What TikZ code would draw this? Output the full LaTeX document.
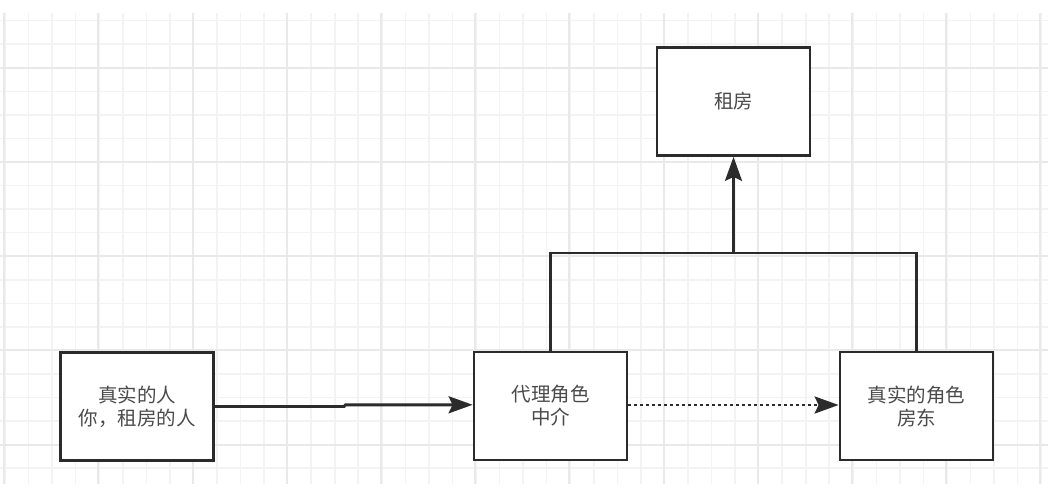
\documentclass[tikz,border=0pt]{standalone}
\usepackage{fontspec}
\setmainfont{Noto Sans CJK SC}
\usetikzlibrary{arrows.meta}
\definecolor{edgec}{HTML}{2B2B2B}
\definecolor{textc}{HTML}{4A4A4A}
\definecolor{gridminor}{HTML}{F3F3F3}
\definecolor{gridmajor}{HTML}{E9E9E9}
\tikzset{
  box/.style={draw=edgec, line width=2.8pt, fill=white, rectangle,
    minimum width=153pt, minimum height=108pt, inner sep=0pt,
    align=center, text=textc, font=\fontsize{19.5}{23}\selectfont},
  conn/.style={draw=edgec, line width=2.9pt},
  tip/.style={-{Stealth[length=24pt, width=17pt, inset=4pt]}},
  dots/.style={dash pattern=on 3pt off 3pt},
}
\begin{document}
\begin{tikzpicture}[x=1pt, y=-1pt]
\useasboundingbox (0,0) rectangle (1048,494);
\fill[white] (0,0) rectangle (1048,494);
% grid
\foreach \i in {0,...,44} {
  \pgfmathsetmacro{\gx}{5+23.55*\i}
  \draw[gridminor, line width=1.6pt] (\gx,13) -- (\gx,484);
}
\foreach \i in {0,...,19} {
  \pgfmathsetmacro{\gy}{20.7+23.55*\i}
  \draw[gridminor, line width=1.6pt] (0,\gy) -- (1048,\gy);
}
\foreach \i in {0,...,11} {
  \pgfmathsetmacro{\gx}{4.1+94.2*\i}
  \draw[gridmajor, line width=2pt] (\gx,13) -- (\gx,484);
}
\foreach \i in {0,...,4} {
  \pgfmathsetmacro{\gy}{67.7+94.2*\i}
  \draw[gridmajor, line width=2pt] (0,\gy) -- (1048,\gy);
}
% nodes
\node[box] (top) at (733.5,101.5) {租房};
\node[box] (real) at (137,406.5) {真实的人\\你，租房的人};
\node[box] (proxy) at (550.5,406) {代理角色\\中介};
\node[box] (owner) at (916.5,406) {真实的角色\\房东};
\coordinate (j) at (733.5,253);
\coordinate (k1) at (344,406.5);
\coordinate (k2) at (345.5,404.8);
% connectors
\draw[conn, tip] (proxy.north) |- (j) -- (top.south);
\draw[conn] (owner.north) |- (j);
\draw[conn, tip] (real.east) -- (k1) -- (k2) -- (k2 -| proxy.west);
\draw[conn, dots, tip] (proxy.east |- 0,405) -- (owner.west |- 0,405);
\end{tikzpicture}
\end{document}
